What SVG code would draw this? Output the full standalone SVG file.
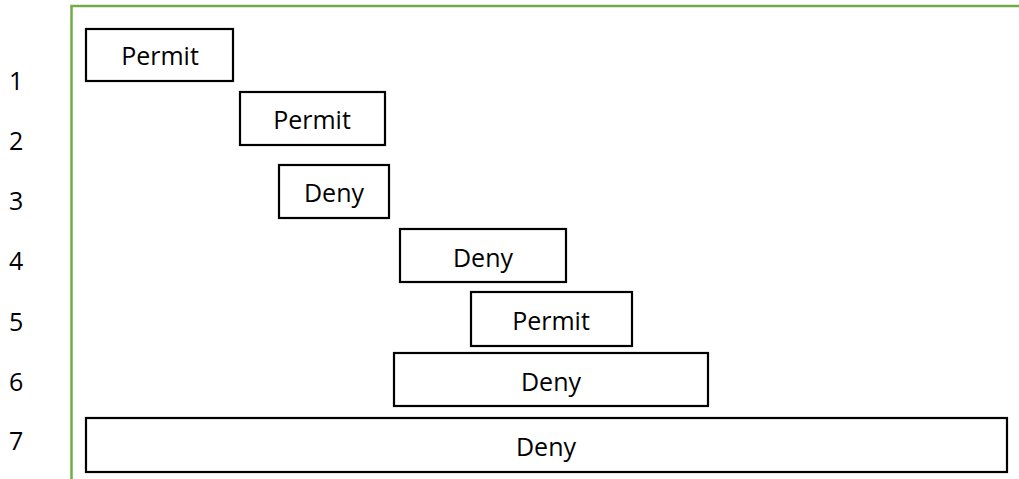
<svg xmlns="http://www.w3.org/2000/svg" width="1019" height="479" viewBox="0 0 1019 479">
<style>
.box{fill:#fff;stroke:#000;stroke-width:2.2}
.lbl{font-family:"Open Sans","Liberation Sans",sans-serif;font-size:25px;fill:#000;text-anchor:middle}
.num{font-family:"Open Sans","Liberation Sans",sans-serif;font-size:25px;fill:#000}
.frame{fill:none;stroke:#70AD47;stroke-width:2.5}
</style>
<rect width="1019" height="479" fill="#fff"/>
<g id="frame">
<path class="frame" d="M71.5,479 V6 H1019"/>
</g>
<g id="row-numbers">
<text class="num" x="9" y="90">1</text>
<text class="num" x="9" y="150">2</text>
<text class="num" x="9" y="210">3</text>
<text class="num" x="9" y="270">4</text>
<text class="num" x="9" y="331">5</text>
<text class="num" x="9" y="391">6</text>
<text class="num" x="9" y="450">7</text>
</g>
<g id="connectors"></g>
<g id="rule1"><rect class="box" x="86" y="29" width="147" height="52"/><text class="lbl" x="160" y="65">Permit</text></g>
<g id="rule2"><rect class="box" x="240" y="92" width="145" height="53"/><text class="lbl" x="312" y="129">Permit</text></g>
<g id="rule3"><rect class="box" x="279" y="165" width="110" height="53"/><text class="lbl" x="334" y="202">Deny</text></g>
<g id="rule4"><rect class="box" x="400" y="229" width="166" height="53"/><text class="lbl" x="483" y="267">Deny</text></g>
<g id="rule5"><rect class="box" x="471" y="292" width="161" height="54"/><text class="lbl" x="551" y="330">Permit</text></g>
<g id="rule6"><rect class="box" x="394" y="353" width="314" height="53"/><text class="lbl" x="551" y="391">Deny</text></g>
<g id="rule7"><rect class="box" x="86" y="418" width="921" height="54"/><text class="lbl" x="546" y="456">Deny</text></g>
</svg>
